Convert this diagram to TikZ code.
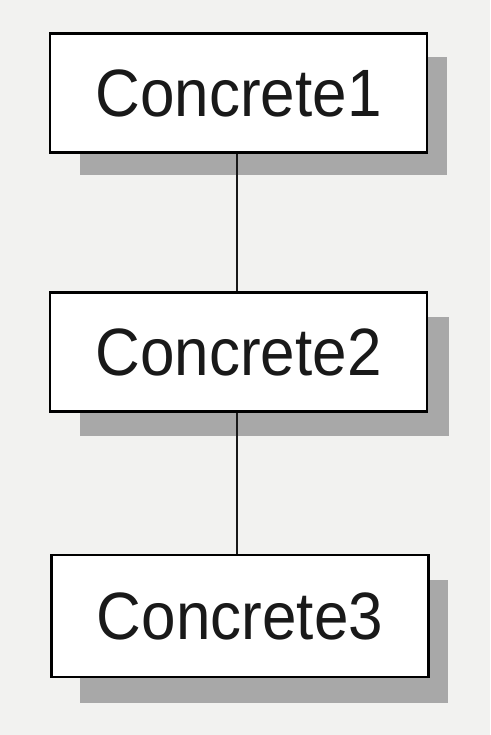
\documentclass[tikz,border=0pt]{standalone}
\usepackage{fontspec}
\setmainfont{Liberation Sans}
\definecolor{paper}{RGB}{242,242,240}
\definecolor{shade}{RGB}{168,168,168}
\begin{document}
\begin{tikzpicture}[x=1pt,y=-1pt,
  cls/.style={draw=black,line width=2.8pt,fill=white,minimum width=377pt,minimum height=119pt,inner sep=0pt,
    font=\fontsize{62}{62}\selectfont,text=black!90},
  shadowbox/.style={fill=shade},
  link/.style={line width=2.4pt,draw=black!90}]
\fill[paper] (0,0) rectangle (490,735);
\useasboundingbox (0,0) rectangle (490,735);
% shadows
\fill[shadowbox] (80,57) rectangle (447,175);
\fill[shadowbox] (80,317) rectangle (449,436);
\fill[shadowbox] (80,580) rectangle (448,703);
\node[cls] (c1) at (238.5,93) {\scalebox{1}[1.08]{Concrete1}};
\node[cls] (c2) at (238.5,352) {\scalebox{1}[1.08]{Concrete2}};
\node[cls,minimum height=122pt] (c3) at (240,616) {\scalebox{1}[1.08]{Concrete3}};
\draw[link] (c1.south -| 237,0) -- (c2.north -| 237,0);
\draw[link] (c2.south -| 237,0) -- (c3.north -| 237,0);
\end{tikzpicture}
\end{document}
